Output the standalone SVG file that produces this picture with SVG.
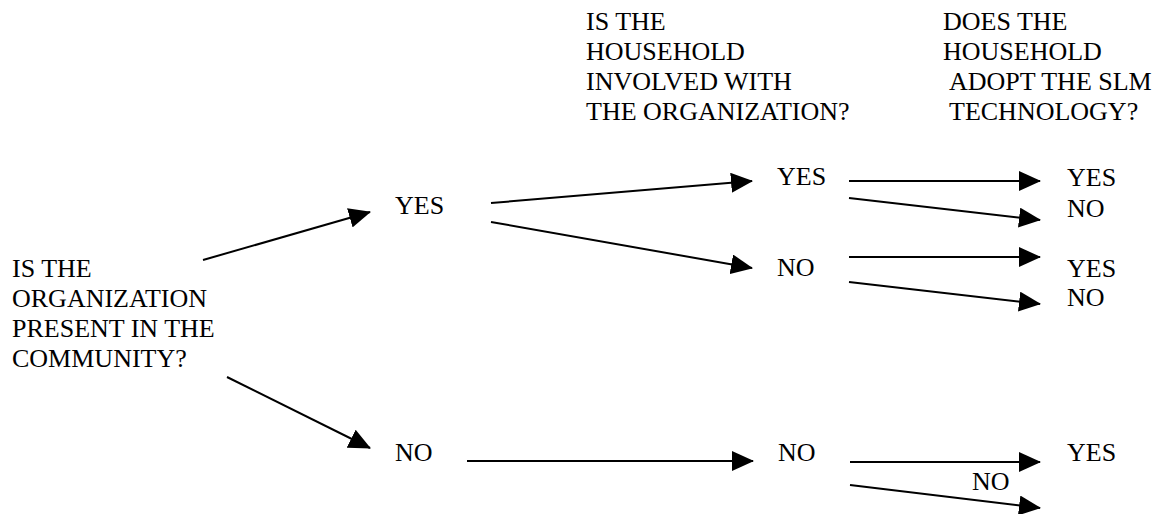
<svg xmlns="http://www.w3.org/2000/svg" width="1160" height="514" viewBox="0 0 1160 514">
<defs>
<style>
.t{font-family:"Liberation Serif","Times New Roman",serif;font-size:26px;fill:#000}
.c{stroke:#000;stroke-width:2;fill:none}
</style>
<marker id="ah" viewBox="0 0 22 20" refX="21" refY="10" markerWidth="22" markerHeight="20" markerUnits="userSpaceOnUse" orient="auto">
<path d="M0,0 L22,10 L0,20 Z" fill="#000"/>
</marker>
</defs>
<rect width="1160" height="514" fill="#fff"/>
<g id="q-household-involved" class="t">
<text x="586" y="30">IS THE</text>
<text x="586" y="60">HOUSEHOLD</text>
<text x="586" y="90">INVOLVED WITH</text>
<text x="586" y="120">THE ORGANIZATION?</text>
</g>
<g id="q-adopt" class="t">
<text x="943" y="30">DOES THE</text>
<text x="943" y="60">HOUSEHOLD</text>
<text x="949" y="90">ADOPT THE SLM</text>
<text x="949" y="120">TECHNOLOGY?</text>
</g>
<g id="q-org-present" class="t">
<text x="12" y="277">IS THE</text>
<text x="12" y="307">ORGANIZATION</text>
<text x="12" y="337">PRESENT IN THE</text>
<text x="12" y="367">COMMUNITY?</text>
</g>
<g id="l1-yes" class="t"><text x="395" y="214">YES</text></g>
<g id="l1-no" class="t"><text x="395" y="461">NO</text></g>
<g id="l2-yes" class="t"><text x="777" y="185">YES</text></g>
<g id="l2-no" class="t"><text x="777" y="276">NO</text></g>
<g id="l2-no-b" class="t"><text x="778" y="461">NO</text></g>
<g id="l3-yes-1" class="t"><text x="1067" y="186">YES</text></g>
<g id="l3-no-1" class="t"><text x="1067" y="217">NO</text></g>
<g id="l3-yes-2" class="t"><text x="1067" y="277">YES</text></g>
<g id="l3-no-2" class="t"><text x="1067" y="306">NO</text></g>
<g id="l3-yes-3" class="t"><text x="1067" y="461">YES</text></g>
<g id="l3-no-3" class="t"><text x="972" y="490">NO</text></g>
<g id="connectors">
<line class="c" x1="203" y1="260" x2="370" y2="212" marker-end="url(#ah)"/>
<line class="c" x1="227" y1="377" x2="370" y2="448" marker-end="url(#ah)"/>
<line class="c" x1="491" y1="203" x2="752" y2="181" marker-end="url(#ah)"/>
<line class="c" x1="491" y1="222" x2="752" y2="268" marker-end="url(#ah)"/>
<line class="c" x1="467" y1="461" x2="753" y2="461" marker-end="url(#ah)"/>
<line class="c" x1="849" y1="181" x2="1040" y2="181" marker-end="url(#ah)"/>
<line class="c" x1="849" y1="198" x2="1040" y2="220" marker-end="url(#ah)"/>
<line class="c" x1="849" y1="257" x2="1040" y2="257" marker-end="url(#ah)"/>
<line class="c" x1="849" y1="282" x2="1040" y2="304" marker-end="url(#ah)"/>
<line class="c" x1="850" y1="462" x2="1040" y2="462" marker-end="url(#ah)"/>
<line class="c" x1="850" y1="485" x2="1040" y2="508" marker-end="url(#ah)"/>
</g>
</svg>
